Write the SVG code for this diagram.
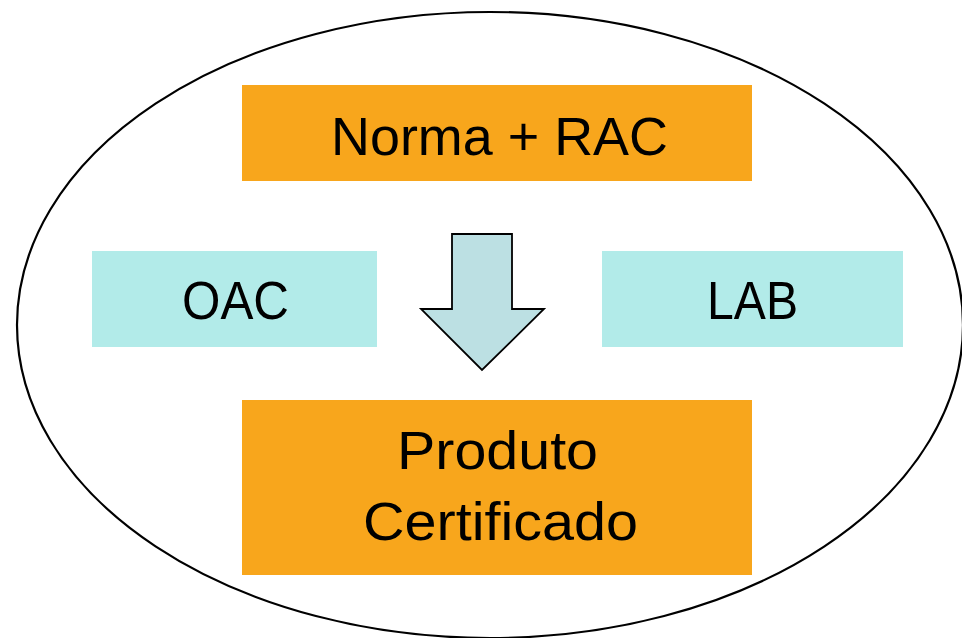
<svg xmlns="http://www.w3.org/2000/svg" width="962" height="638" viewBox="0 0 962 638">
<style>
.bg{fill:#ffffff}
.orange{fill:#F8A61C}
.cyan{fill:#B2EBE9}
.lbl{font-family:"Liberation Sans",Arial,sans-serif;font-size:54px;fill:#000;text-anchor:middle}
.ell{fill:none;stroke:#000;stroke-width:2.2}
.arrow{fill:#BCE0E3;stroke:#000;stroke-width:1.8;stroke-linejoin:miter}
</style>
<rect class="bg" x="0" y="0" width="962" height="638"/>
<g id="boundary">
<ellipse class="ell" cx="490" cy="325" rx="473" ry="313"/>
</g>
<g id="norma-rac">
<rect class="orange" x="242" y="85" width="510" height="96"/>
<text class="lbl" x="499.5" y="155" textLength="337" lengthAdjust="spacingAndGlyphs">Norma + RAC</text>
</g>
<g id="oac">
<rect class="cyan" x="92" y="251" width="285" height="96"/>
<text class="lbl" x="235.5" y="319" textLength="107" lengthAdjust="spacingAndGlyphs">OAC</text>
</g>
<g id="lab">
<rect class="cyan" x="602" y="251" width="301" height="96"/>
<text class="lbl" x="752.5" y="319" textLength="91" lengthAdjust="spacingAndGlyphs">LAB</text>
</g>
<g id="produto-certificado">
<rect class="orange" x="242" y="400" width="510" height="175"/>
<text class="lbl" x="497.5" y="469" textLength="201" lengthAdjust="spacingAndGlyphs">Produto</text>
<text class="lbl" x="500.5" y="540" textLength="275" lengthAdjust="spacingAndGlyphs">Certificado</text>
</g>
<g id="connectors">
<polygon class="arrow" points="452,234 512,234 512,309 544,309 482,370 421,309 452,309"/>
</g>
</svg>
